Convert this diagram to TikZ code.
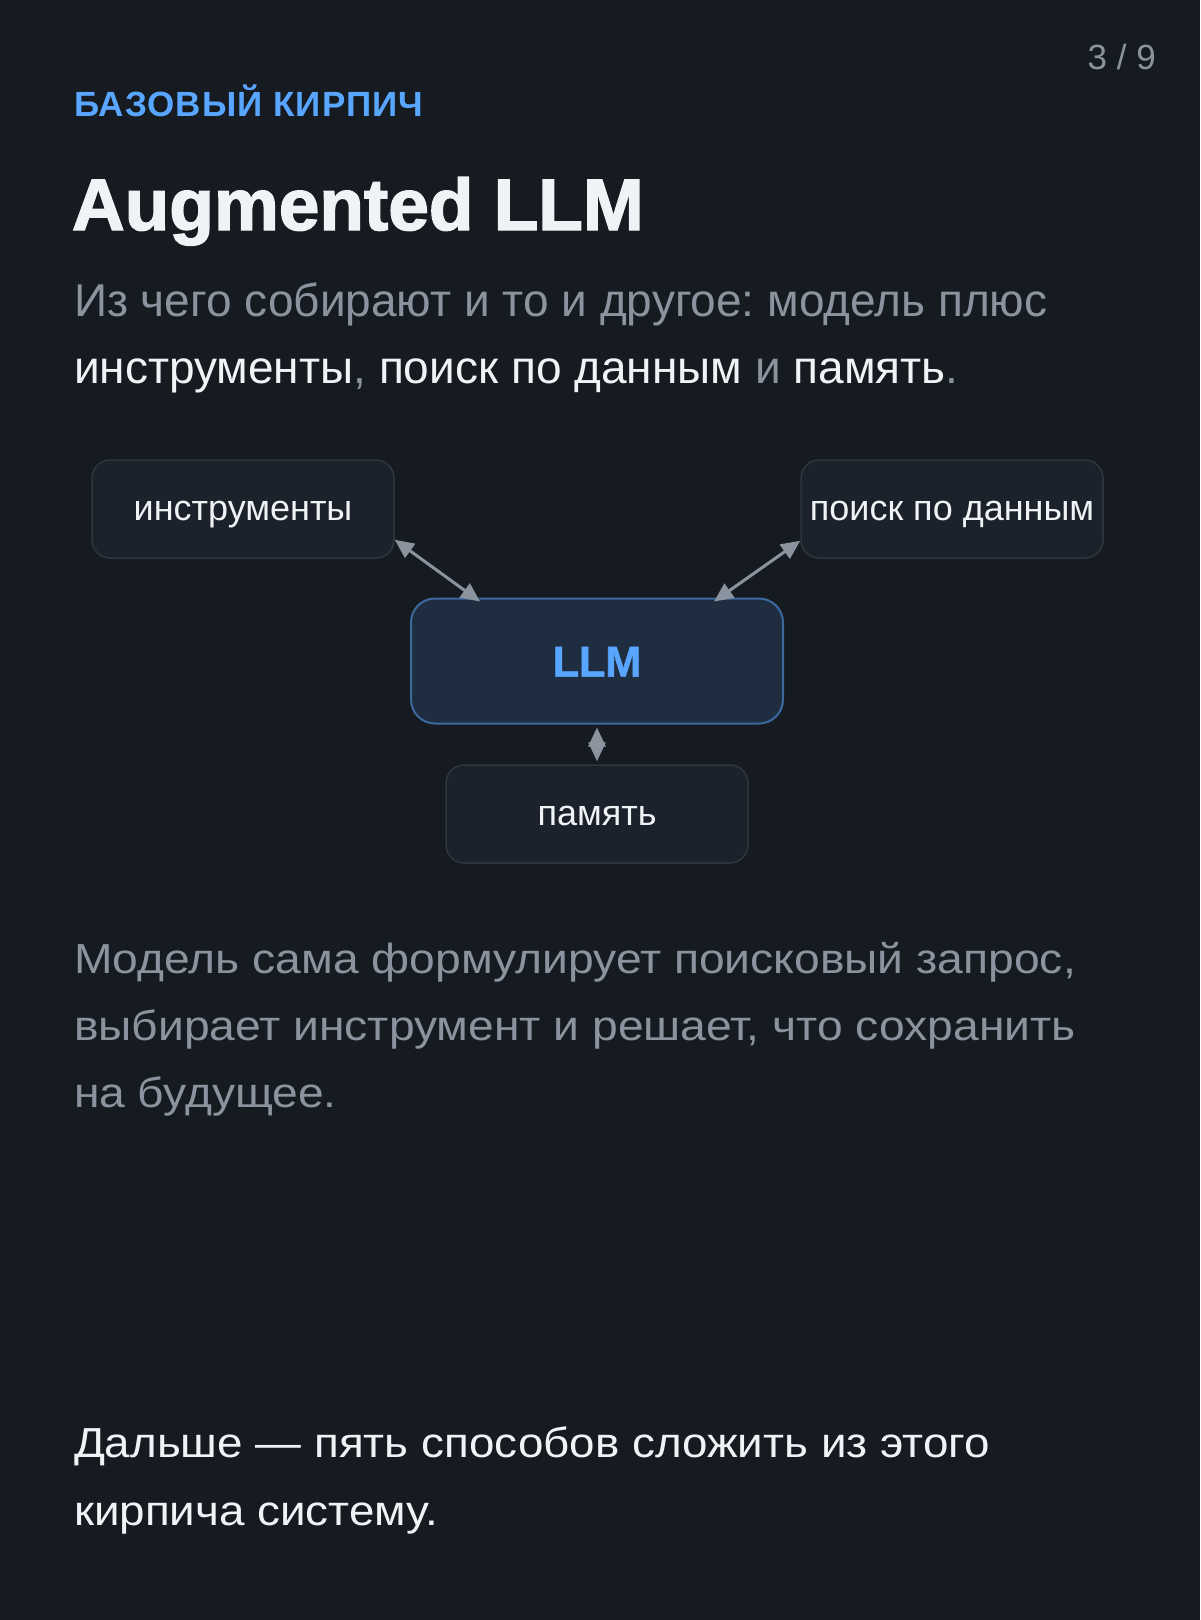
\documentclass[tikz,border=0pt]{standalone}
\usepackage{fontspec}
\setmainfont{Liberation Sans}
\newfontfamily\widefont[FakeStretch=1.1]{Liberation Sans}
\newfontfamily\footfont[FakeStretch=1.09]{Liberation Sans}
\newfontfamily\heavyfont[FakeBold=2]{Liberation Sans}
\newfontfamily\llmfont[FakeBold=1.2]{Liberation Sans}
\usetikzlibrary{arrows.meta,calc}
\definecolor{bg}{HTML}{161B22}
\definecolor{boxfill}{HTML}{1C222B}
\definecolor{boxline}{HTML}{30363D}
\definecolor{llmfill}{HTML}{1F2D40}
\definecolor{llmline}{HTML}{3B6A9E}
\definecolor{accent}{HTML}{58A6FF}
\definecolor{muted}{HTML}{8B949E}
\definecolor{bright}{HTML}{F0F3F6}
\definecolor{arrowc}{HTML}{8B949E}
\frenchspacing
\begin{document}
\begin{tikzpicture}[x=1pt,y=-1pt,
  txt/.style={anchor=base west,inner sep=0pt,outer sep=0pt},
  card/.style={draw=boxline,fill=boxfill,line width=1.5pt,rounded corners=18pt,
    minimum width=302pt,minimum height=98pt,inner sep=0pt,
    text height=22.5pt,text depth=0pt,
    font=\fontsize{36}{40}\selectfont,text=bright},
  llmbox/.style={draw=llmline,fill=llmfill,line width=2pt,rounded corners=24pt,
    minimum width=372pt,minimum height=125pt,inner sep=0pt,
    text height=31pt,text depth=0pt,
    font=\fontsize{43}{48}\llmfont\bfseries,text=accent},
  link/.style={draw=arrowc,line width=3pt,{Triangle[length=19pt,width=17pt]}-{Triangle[length=19pt,width=17pt]}},
  bodytxt/.style={txt,text=muted,font=\fontsize{42}{48}\widefont}
]
\useasboundingbox[fill=bg] (0,0) rectangle (1200,1620);

\node[anchor=base east,inner sep=0pt,text=muted,font=\fontsize{35}{40}\selectfont] (page) at (1156,69) {3 / 9};
\node[txt,text=accent,font=\fontsize{35}{40}\selectfont\bfseries\addfontfeature{LetterSpace=3}] (kicker) at (74,116) {БАЗОВЫЙ КИРПИЧ};
\node[txt,text=bright,font=\fontsize{73}{80}\heavyfont\bfseries] (title) at (72,230) {Augmented LLM};
\node[txt,text=muted,font=\fontsize{46}{52}\selectfont] (sub1) at (74,316) {Из чего собирают и то и другое: модель плюс};
\node[txt,text=muted,font=\fontsize{46}{52}\selectfont] (sub2) at (74,383) {\textcolor{bright}{инструменты}, \textcolor{bright}{поиск по данным} и \textcolor{bright}{память}.};

\node[card] (tools) at (243,509) {инструменты};
\node[card] (search) at (952,509) {поиск по данным};
\node[llmbox] (llm) at (597,661) {LLM};
\node[card] (mem) at (597,814) {память};

\path ($(tools.south east)+(0,-19)$) coordinate (t1)
      ($(llm.north west)+(70,4)$) coordinate (l1)
      ($(search.south west)+(0,-18)$) coordinate (s1)
      ($(llm.north east)+(-70,4)$) coordinate (l2)
      ($(llm.south)+(0,3)$) coordinate (m1)
      ($(mem.north)+(0,-3)$) coordinate (m2);
\draw[link] (t1) -- (l1);
\draw[link] (s1) -- (l2);
\draw[link] (m1) -- (m2);

\node[bodytxt] (body1) at (74,973) {Модель сама формулирует поисковый запрос,};
\node[bodytxt] (body2) at (74,1040) {выбирает инструмент и решает, что сохранить};
\node[bodytxt] (body3) at (74,1107) {на будущее.};

\node[bodytxt,text=bright,font=\fontsize{42}{48}\footfont] (foot1) at (74,1457) {Дальше — пять способов сложить из этого};
\node[bodytxt,text=bright,font=\fontsize{42}{48}\footfont] (foot2) at (74,1525) {кирпича систему.};
\end{tikzpicture}
\end{document}
